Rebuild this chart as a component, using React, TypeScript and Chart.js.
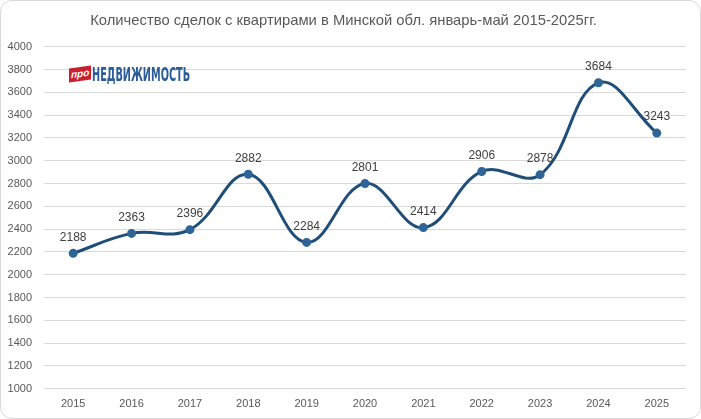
import React, { useEffect, useRef } from "react";
import { Chart, registerables } from "chart.js";

Chart.register(...registerables);

const TITLE = "Количество сделок с квартирами в Минской обл. январь-май 2015-2025гг.";
const years = ["2015", "2016", "2017", "2018", "2019", "2020", "2021", "2022", "2023", "2024", "2025"];
const deals = [2188, 2363, 2396, 2882, 2284, 2801, 2414, 2906, 2878, 3684, 3243];
const yMin = 1000;
const yMax = 4000;
const yStep = 200;

const LINE_COLOR = "#1F4E79";

const labelPlugin = {
  id: "pointLabels",
  afterDatasetsDraw(chart: any) {
    const ctx = chart.ctx;
    const meta = chart.getDatasetMeta(0);
    ctx.save();
    ctx.font = "12px 'Liberation Sans', Arial, sans-serif";
    ctx.fillStyle = "#404040";
    ctx.textAlign = "center";
    ctx.textBaseline = "middle";
    meta.data.forEach((pt: any, i: number) => {
      ctx.fillText(String(deals[i]), pt.x, pt.y - 16);
    });
    ctx.restore();
  },
};

export default function App() {
  const ref = useRef<HTMLCanvasElement | null>(null);
  useEffect(() => {
    document.body.style.margin = "0";
    if (!ref.current) return;
    const chart = new Chart(ref.current, {
      type: "line",
      data: {
        labels: years,
        datasets: [
          {
            data: deals,
            borderColor: LINE_COLOR,
            backgroundColor: LINE_COLOR,
            borderWidth: 3,
            pointRadius: 3,
            pointBackgroundColor: "#2E6496",
            pointBorderColor: "#2E6496",
            tension: 0.4,
            fill: false,
          },
        ],
      },
      options: {
        animation: false,
        responsive: false,
        devicePixelRatio: 1,
        layout: { padding: { left: 0, right: 14, top: 0, bottom: 6 } },
        plugins: {
          legend: { display: false },
          tooltip: { enabled: false },
          title: {
            display: true,
            text: TITLE,
            color: "#595959",
            font: { family: "'Liberation Sans', Arial, sans-serif", size: 14.8, weight: "normal" },
            padding: { top: 11, bottom: 17 },
          },
        },
        scales: {
          x: {
            offset: true,
            grid: { display: false },
            border: { display: false },
            ticks: {
              color: "#595959",
              font: { family: "'Liberation Sans', Arial, sans-serif", size: 11 },
              padding: 1,
            },
          },
          y: {
            min: yMin,
            max: yMax,
            grid: { color: "#d9d9d9", drawTicks: false },
            border: { display: false },
            afterFit: (s: any) => {
              s.width = 43;
            },
            ticks: {
              stepSize: yStep,
              color: "#595959",
              font: { family: "'Liberation Sans', Arial, sans-serif", size: 11 },
              padding: 12,
              callback: (v: any) => String(v),
            },
          },
        },
      },
      plugins: [labelPlugin],
    });
    return () => chart.destroy();
  }, []);

  return (
    <div
      style={{
        position: "absolute",
        left: 0,
        top: 0,
        width: 701,
        height: 419,
        boxSizing: "border-box",
        border: "1px solid #d9d9d9",
        borderRadius: 12,
        background: "#fff",
        overflow: "hidden",
      }}
    >
      <canvas ref={ref} width={699} height={417} style={{ display: "block" }} />
      <div
        style={{
          position: "absolute",
          left: 68,
          top: 64,
          display: "flex",
          alignItems: "center",
          height: 18,
        }}
      >
        <span
          style={{
            display: "inline-block",
            background: "#C8202F",
            color: "#fff",
            fontFamily: "'Liberation Sans', Arial, sans-serif",
            fontStyle: "italic",
            fontWeight: "bold",
            fontSize: 10,
            lineHeight: "14px",
            padding: "0 2px",
            transform: "skewY(-8deg)",
          }}
        >
          про
        </span>
        <span
          style={{
            display: "inline-block",
            color: "#2B5C98",
            fontFamily: "'Liberation Sans Narrow', 'DejaVu Sans Condensed', Arial, sans-serif",
            fontWeight: "bold",
            fontSize: 20,
            lineHeight: "18px",
            transform: "scaleX(0.54)",
            transformOrigin: "left center",
            marginLeft: 1,
          }}
        >
          НЕДВИЖИМОСТЬ
        </span>
      </div>
    </div>
  );
}
